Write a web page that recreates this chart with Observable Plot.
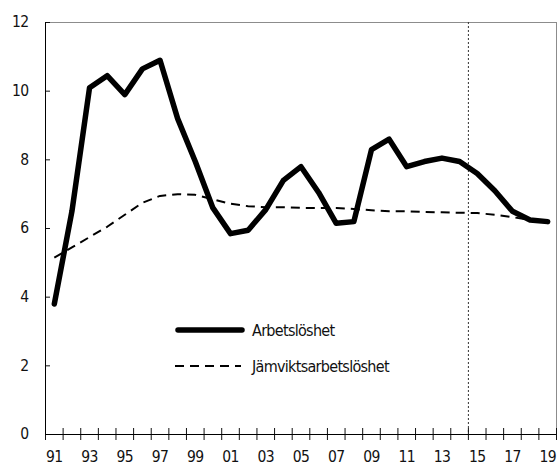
<!DOCTYPE html>
<html>
<head>
<meta charset="utf-8">
<script src="https://cdn.jsdelivr.net/npm/d3@7"></script>
<script src="https://cdn.jsdelivr.net/npm/@observablehq/plot@0.6"></script>
<style>
  body { margin: 0; background: #fff; }
  #wrap { position: relative; width: 557px; height: 464px; font-family: "Liberation Sans Narrow", "DejaVu Sans Condensed", "Arial Narrow", sans-serif; color: #111; letter-spacing: -0.7px; }
  .legend { position: absolute; left: 175px; top: 318px; font-size: 16px; }
  .row { display: flex; align-items: center; height: 24px; margin-bottom: 12px; }
  .row svg { display: block; margin-right: 7px; }
</style>
</head>
<body>
<div id="wrap"></div>
<script>
// ---- data ----
const years = [1991, 1992, 1993, 1994, 1995, 1996, 1997, 1998, 1999, 2000,
               2001, 2002, 2003, 2004, 2005, 2006, 2007, 2008, 2009, 2010,
               2011, 2012, 2013, 2014, 2015, 2016, 2017, 2018, 2019];
const arbetsloshet = [3.8, 6.5, 10.1, 10.45, 9.9, 10.65, 10.9, 9.2, 7.95, 6.6,
                      5.85, 5.95, 6.55, 7.4, 7.8, 7.05, 6.15, 6.2, 8.3, 8.6,
                      7.8, 7.95, 8.05, 7.95, 7.6, 7.1, 6.5, 6.25, 6.2];
const jamviktsarbetsloshet = [5.15, 5.45, 5.75, 6.05, 6.4, 6.75, 6.95, 7.0, 6.98, 6.85,
                              6.72, 6.65, 6.62, 6.62, 6.6, 6.6, 6.6, 6.57, 6.53, 6.5,
                              6.5, 6.48, 6.47, 6.46, 6.45, 6.4, 6.33, 6.25, 6.2];
const seriesNames = ["Arbetslöshet", "Jämviktsarbetslöshet"];
const yTicks = [0, 2, 4, 6, 8, 10, 12];
const xLabelYears = [1991, 1993, 1995, 1997, 1999, 2001, 2003, 2005, 2007, 2009, 2011, 2013, 2015, 2017, 2019];
const xTickLabels = ["91", "93", "95", "97", "99", "01", "03", "05", "07", "09", "11", "13", "15", "17", "19"];
const forecastStart = 2014.5;

// ---- build ----
const data = years.map((year, i) => ({year, u: arbetsloshet[i], e: jamviktsarbetsloshet[i]}));
const boundaries = years.map(y => y - 0.5).concat([years[years.length - 1] + 0.5]);
const xDomain = [boundaries[0], boundaries[boundaries.length - 1]];
const labelOf = new Map(xLabelYears.map((y, i) => [y, xTickLabels[i]]));

const FONT = '"Liberation Sans Narrow", "DejaVu Sans Condensed", "Arial Narrow", sans-serif';

const chart = Plot.plot({
  width: 557,
  height: 464,
  marginLeft: 45,
  marginRight: 1,
  marginTop: 22,
  marginBottom: 30,
  style: {fontFamily: FONT, fontSize: "15.5px", color: "#111", background: "#fff", letterSpacing: "-0.6px", overflow: "visible"},
  x: {type: "linear", domain: xDomain, label: null},
  y: {domain: [yTicks[0], yTicks[yTicks.length - 1]], label: null},
  marks: [
    Plot.frame({stroke: "#8c8c8c"}),
    Plot.ruleX([forecastStart], {stroke: "#333", strokeDasharray: "2,2", strokeWidth: 1}),
    Plot.axisY({ticks: yTicks, tickSize: -5, fill: "none", label: null}),
    Plot.axisY({ticks: yTicks, tickSize: 0, tickPadding: 17, label: null, fill: "#111"}),
    Plot.axisX({ticks: boundaries, tickSize: 12, dy: -6, fill: "none", label: null}),
    Plot.axisX({ticks: xLabelYears, tickSize: 0, tickPadding: 16, tickFormat: d => labelOf.get(d), label: null, fill: "#111"}),
    Plot.ruleY([yTicks[0]], {stroke: "#000"}),
    Plot.ruleX([xDomain[0]], {stroke: "#000"}),
    Plot.line(data, {x: "year", y: "e", stroke: "#000", strokeWidth: 2, strokeDasharray: "9,6", strokeLinecap: "butt"}),
    Plot.line(data, {x: "year", y: "u", stroke: "#000", strokeWidth: 5.5})
  ]
});

const wrap = document.getElementById("wrap");
wrap.appendChild(chart);

// legend (inside plot area)
const legend = document.createElement("div");
legend.className = "legend";
legend.innerHTML = `
  <div class="row"><svg width="70" height="8"><line x1="3" y1="4" x2="67" y2="4" stroke="#000" stroke-width="5.5" stroke-linecap="round"/></svg><span>${seriesNames[0]}</span></div>
  <div class="row"><svg width="70" height="8"><line x1="0" y1="4" x2="66" y2="4" stroke="#000" stroke-width="2" stroke-dasharray="9,6"/></svg><span>${seriesNames[1]}</span></div>`;
wrap.appendChild(legend);
</script>
</body>
</html>
